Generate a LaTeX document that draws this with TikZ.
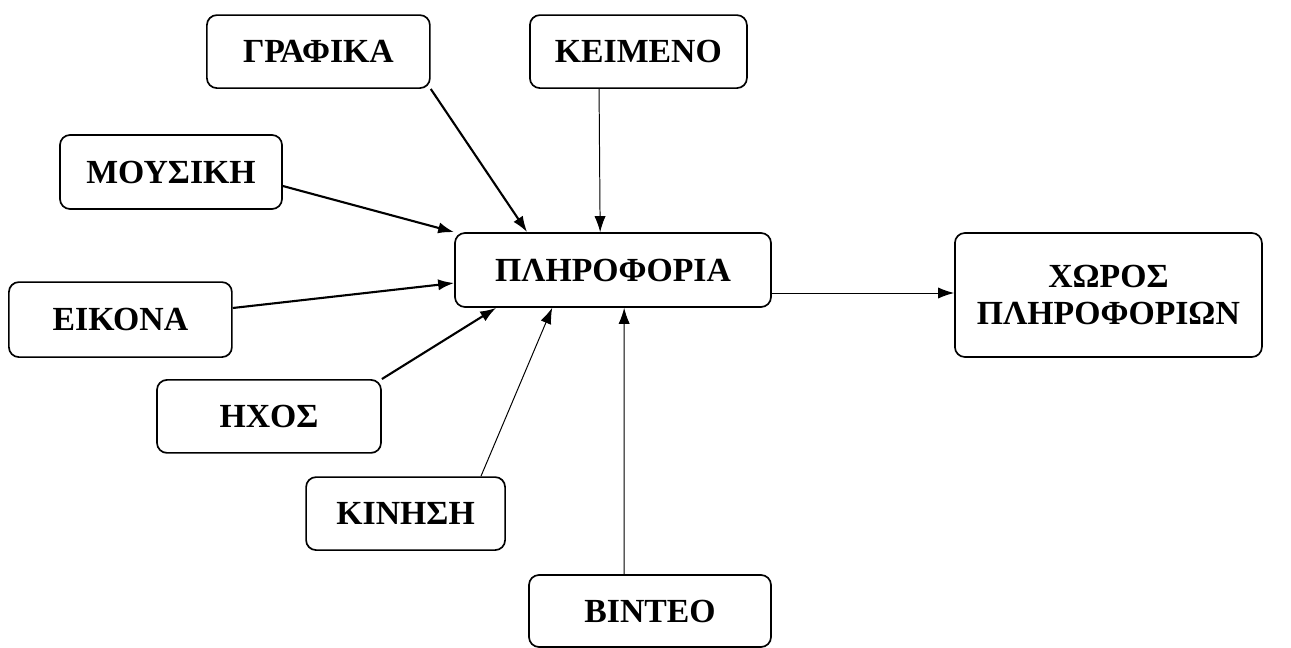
\documentclass[tikz,border=0pt]{standalone}
\usepackage{fontspec}
\setmainfont{Liberation Serif}
\usepackage{tikz}
\usetikzlibrary{positioning}
\usetikzlibrary{calc}
\usetikzlibrary{arrows.meta}
\tikzset{>={Latex[length=4mm,width=2.8mm]}}
\tikzset{
  infobox/.style={draw, line width=1.2pt, rounded corners=0.25cm, align=center,
    font=\fontsize{24}{27}\selectfont\bfseries, inner sep=2pt},
  thickarrow/.style={->, line width=1.5pt},
  thinarrow/.style={->, line width=0.7pt}
}

\begin{document}
\begin{tikzpicture}[scale=1]
\useasboundingbox (0,0) rectangle (32.275,-16.2);

% ---------------- Sources ----------------
\node[infobox, minimum width=5.575cm, minimum height=1.825cm] (grafika) at (7.96,-1.29) {ΓΡΑΦΙΚΑ};
\node[infobox, minimum width=5.425cm, minimum height=1.825cm] (keimeno) at (15.96,-1.29) {ΚΕΙΜΕΝΟ};
\node[infobox, minimum width=5.55cm, minimum height=1.85cm] (mousiki) at (4.275,-4.3) {ΜΟΥΣΙΚΗ};
\node[infobox, minimum width=5.575cm, minimum height=1.875cm] (eikona) at (3.01,-7.99) {ΕΙΚΟΝΑ};
\node[infobox, minimum width=5.6cm, minimum height=1.825cm] (ixos) at (6.725,-10.41) {ΗΧΟΣ};
\node[infobox, minimum width=4.975cm, minimum height=1.825cm] (kinisi) at (10.14,-12.84) {ΚΙΝΗΣΗ};
\node[infobox, minimum width=6.05cm, minimum height=1.8cm] (vinteo) at (16.25,-15.275) {ΒΙΝΤΕΟ};

% ---------------- Centre and target ----------------
\node[infobox, minimum width=7.9cm, minimum height=1.85cm] (pliroforia) at (15.325,-6.75) {ΠΛΗΡΟΦΟΡΙΑ};
\node[infobox, minimum width=7.675cm, minimum height=3.1cm] (xoros) at (27.71,-7.375) {ΧΩΡΟΣ\\ΠΛΗΡΟΦΟΡΙΩΝ};

% ---------------- Arrows ----------------
\draw[thickarrow] (grafika.south east) -- ([xshift=1.825cm]pliroforia.north west);
\draw[thinarrow] ([xshift=1.75cm]keimeno.south west) -- ([xshift=3.65cm]pliroforia.north west);
\draw[thickarrow] ([yshift=-0.35cm]mousiki.east) -- (pliroforia.north west);
\draw[thickarrow] ([yshift=0.29cm]eikona.east) -- ([yshift=-0.325cm]pliroforia.west);
\draw[thickarrow] (ixos.north east) -- ([xshift=1.05cm]pliroforia.south west);
\draw[thinarrow] ([xshift=-0.625cm]kinisi.north east) -- ([xshift=2.45cm]pliroforia.south west);
\draw[thinarrow] ([xshift=2.4cm]vinteo.north west) -- ([xshift=4.25cm]pliroforia.south west);

\coordinate (out) at ([yshift=-0.575cm]pliroforia.east);
\draw[thinarrow] (out) -- (out -| xoros.west);

\end{tikzpicture}
\end{document}
